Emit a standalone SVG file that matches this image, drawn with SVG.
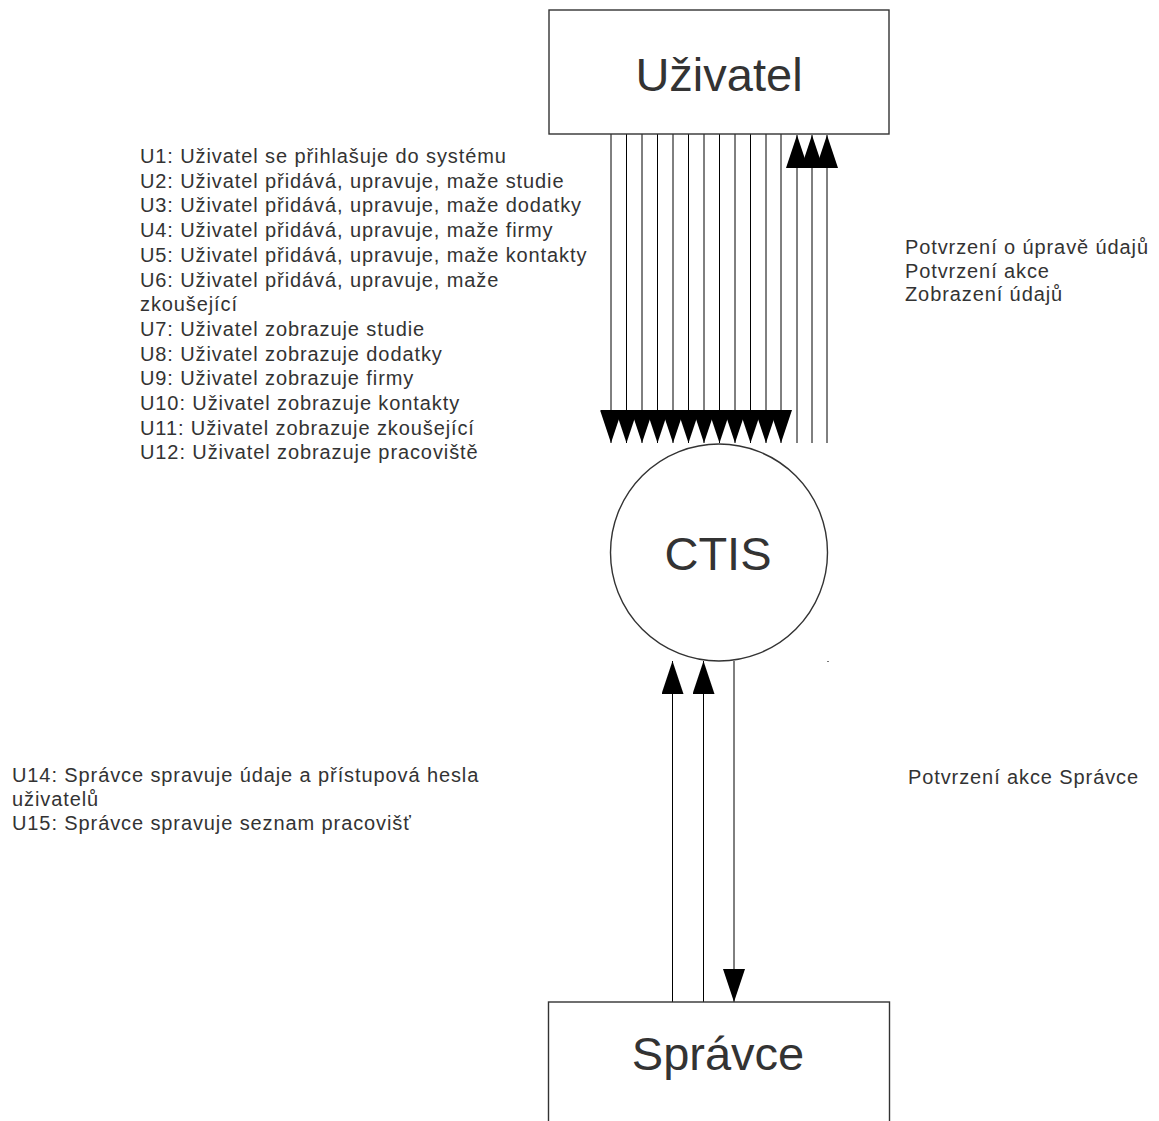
<svg xmlns="http://www.w3.org/2000/svg" width="1159" height="1121" viewBox="0 0 1159 1121">
  <style>
    .box { fill: #ffffff; stroke: #333333; stroke-width: 1.4; }
    .big { font-family: "Liberation Sans", Arial, sans-serif; font-size: 47px; fill: #333333; text-anchor: middle; }
    .lbl { font-family: "Liberation Sans", Arial, sans-serif; font-size: 20px; fill: #333333; letter-spacing: 0.9px; }
    .flow { stroke: #000000; stroke-width: 1; fill: none; marker-end: url(#arr); }
  </style>
  <defs>
    <marker id="arr" markerUnits="userSpaceOnUse" viewBox="0 0 33 22" markerWidth="33" markerHeight="22" refX="33" refY="11" orient="auto">
      <path d="M0,0 L33,11 L0,22 z" fill="#000000"/>
    </marker>
  </defs>
  <rect width="1159" height="1121" fill="#ffffff"/>

  <g id="connectors">
    <line class="flow" x1="611" y1="134" x2="611" y2="443"/>
    <line class="flow" x1="626.5" y1="134" x2="626.5" y2="443"/>
    <line class="flow" x1="642" y1="134" x2="642" y2="443"/>
    <line class="flow" x1="657.5" y1="134" x2="657.5" y2="443"/>
    <line class="flow" x1="673" y1="134" x2="673" y2="443"/>
    <line class="flow" x1="688.5" y1="134" x2="688.5" y2="443"/>
    <line class="flow" x1="704" y1="134" x2="704" y2="443"/>
    <line class="flow" x1="719.5" y1="134" x2="719.5" y2="443"/>
    <line class="flow" x1="735" y1="134" x2="735" y2="443"/>
    <line class="flow" x1="750.5" y1="134" x2="750.5" y2="443"/>
    <line class="flow" x1="766" y1="134" x2="766" y2="443"/>
    <line class="flow" x1="781" y1="134" x2="781" y2="443"/>
    <line class="flow" x1="797" y1="443" x2="797" y2="135"/>
    <line class="flow" x1="812" y1="443" x2="812" y2="135"/>
    <line class="flow" x1="827" y1="443" x2="827" y2="135"/>
    <line class="flow" x1="672.5" y1="1002" x2="672.5" y2="661"/>
    <line class="flow" x1="703.5" y1="1002" x2="703.5" y2="661"/>
    <line class="flow" x1="734" y1="661" x2="734" y2="1002"/>
  </g>

  <g id="uzivatel">
    <rect class="box" x="549" y="10" width="340" height="124"/>
    <text class="big" x="719" y="91">Uživatel</text>
  </g>

  <g id="ctis">
    <circle class="box" cx="719" cy="552.5" r="108.5"/>
    <text class="big" x="718" y="570">CTIS</text>
  </g>

  <g id="spravce">
    <rect class="box" x="548.5" y="1002" width="341" height="140"/>
    <text class="big" x="718" y="1070">Správce</text>
  </g>

  <g id="labels-uzivatel">
    <text class="lbl" x="140" y="163">U1: Uživatel se přihlašuje do systému</text>
    <text class="lbl" x="140" y="187.7">U2: Uživatel přidává, upravuje, maže studie</text>
    <text class="lbl" x="140" y="212.4">U3: Uživatel přidává, upravuje, maže dodatky</text>
    <text class="lbl" x="140" y="237.1">U4: Uživatel přidává, upravuje, maže firmy</text>
    <text class="lbl" x="140" y="261.8">U5: Uživatel přidává, upravuje, maže kontakty</text>
    <text class="lbl" x="140" y="286.5">U6: Uživatel přidává, upravuje, maže</text>
    <text class="lbl" x="140" y="311.2">zkoušející</text>
    <text class="lbl" x="140" y="335.9">U7: Uživatel zobrazuje studie</text>
    <text class="lbl" x="140" y="360.6">U8: Uživatel zobrazuje dodatky</text>
    <text class="lbl" x="140" y="385.3">U9: Uživatel zobrazuje firmy</text>
    <text class="lbl" x="140" y="410">U10: Uživatel zobrazuje kontakty</text>
    <text class="lbl" x="140" y="434.7">U11: Uživatel zobrazuje zkoušející</text>
    <text class="lbl" x="140" y="459.4">U12: Uživatel zobrazuje pracoviště</text>
  </g>

  <g id="labels-odpoved">
    <text class="lbl" x="905" y="254">Potvrzení o úpravě údajů</text>
    <text class="lbl" x="905" y="277.5">Potvrzení akce</text>
    <text class="lbl" x="905" y="301">Zobrazení údajů</text>
  </g>

  <g id="labels-spravce">
    <text class="lbl" x="12" y="782">U14: Správce spravuje údaje a přístupová hesla</text>
    <text class="lbl" x="12" y="806">uživatelů</text>
    <text class="lbl" x="12" y="830">U15: Správce spravuje seznam pracovišť</text>
    <text class="lbl" x="908" y="784">Potvrzení akce Správce</text>
  </g>

  <g id="marks" stroke="#777777" stroke-width="1">
    <line x1="827" y1="661.5" x2="829" y2="661.5"/>
    <line x1="600.5" y1="410" x2="600.5" y2="412"/>
  </g>
</svg>
